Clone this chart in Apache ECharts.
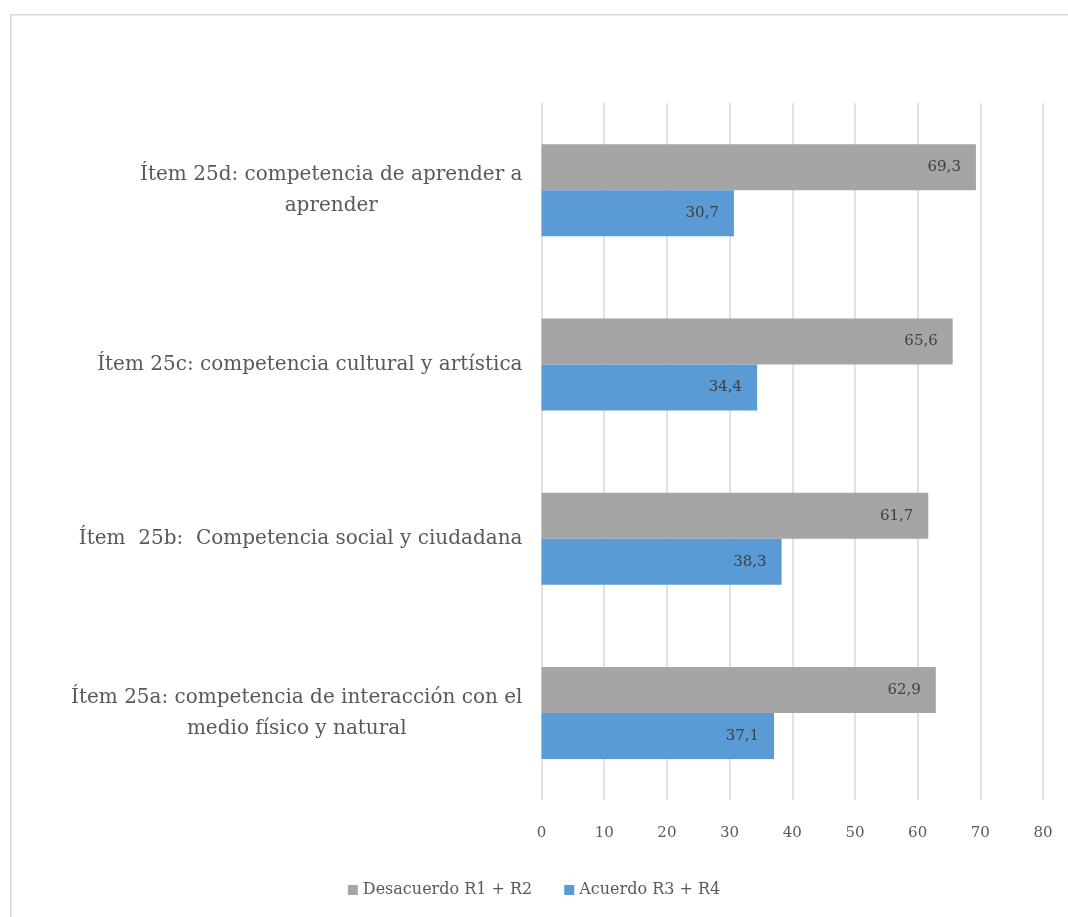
<!DOCTYPE html>
<html>
<head>
<meta charset="utf-8">
<script src="https://cdn.jsdelivr.net/npm/echarts@6/dist/echarts.min.js"></script>
<style>html,body{margin:0;padding:0;background:#fff;}#c{width:1068px;height:917px;}</style>
</head>
<body>
<div id="c"></div>
<script>
const categories = [
  'Ítem 25a: competencia de interacción con el\nmedio físico y natural',
  'Ítem  25b:  Competencia social y ciudadana',
  'Ítem 25c: competencia cultural y artística',
  'Ítem 25d: competencia de aprender a\naprender'
];
const desacuerdo = [62.9, 61.7, 65.6, 69.3];
const acuerdo = [37.1, 38.3, 34.4, 30.7];
const xTicks = { min: 0, max: 80, interval: 10 };

const serif = "'DejaVu Serif', 'Liberation Serif', serif";
const chart = echarts.init(document.getElementById('c'));
const lbl = {
  show: true, position: 'insideRight', distance: 15,
  color: '#404040', fontFamily: serif, fontSize: 15,
  formatter: p => p.value.toFixed(1).replace('.', ',')
};
chart.setOption({
  animation: false,
  graphic: [{
    type: 'rect', left: 10, top: 14, z: -10,
    shape: { width: 1100, height: 1000 },
    style: { fill: '#fff', stroke: '#d9d9d9', lineWidth: 1.5 }
  }],
  grid: { left: 541.5, right: 25, top: 103, bottom: 117, containLabel: false },
  legend: {
    data: ['Desacuerdo R1 + R2', 'Acuerdo R3 + R4'],
    left: 'center', top: 877,
    itemWidth: 10, itemHeight: 10, itemGap: 32, icon: 'rect',
    textStyle: { fontFamily: serif, fontSize: 16, color: '#595959' }
  },
  xAxis: {
    type: 'value', min: xTicks.min, max: xTicks.max, interval: xTicks.interval,
    axisLine: { show: false }, axisTick: { show: false },
    splitLine: { show: true, lineStyle: { color: '#d9d9d9', width: 1.5 } },
    axisLabel: { color: '#595959', fontFamily: serif, fontSize: 15, margin: 26 }
  },
  yAxis: {
    type: 'category', data: categories,
    axisLine: { show: false }, axisTick: { show: false },
    axisLabel: {
      align: 'right', margin: 19,
      formatter: v => v.split('\n').map(l => '{c|' + l + '}').join('\n'),
      rich: { c: { align: 'center', fontFamily: serif, fontSize: 20, color: '#595959', lineHeight: 31 } }
    }
  },
  series: [
    { name: 'Desacuerdo R1 + R2', type: 'bar', data: desacuerdo, barWidth: 46, barGap: '0%',
      itemStyle: { color: '#a5a5a5' }, label: lbl },
    { name: 'Acuerdo R3 + R4', type: 'bar', data: acuerdo, barWidth: 46, barGap: '0%',
      itemStyle: { color: '#5b9bd5' }, label: lbl }
  ]
});
</script>
</body>
</html>
